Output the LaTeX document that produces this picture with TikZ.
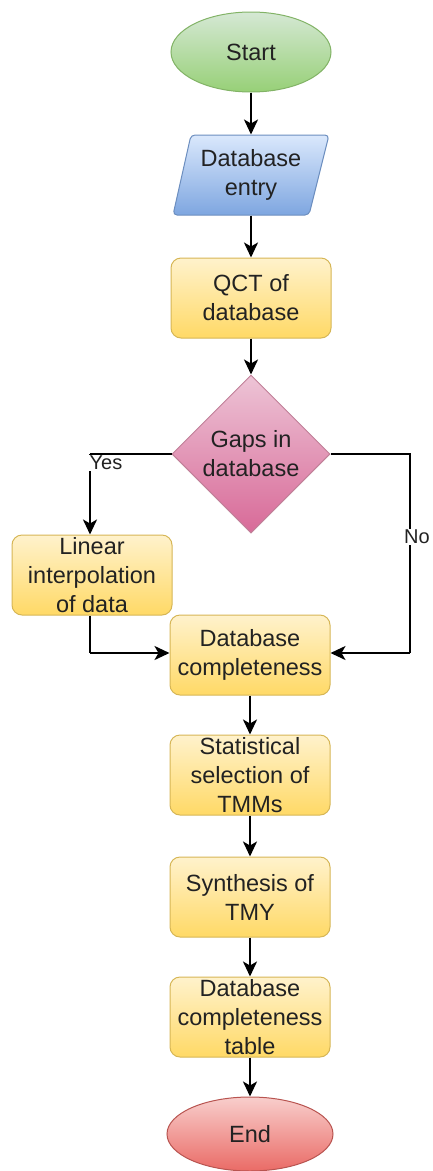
\documentclass[tikz,border=0pt]{standalone}
\usepackage{fontspec}
\setmainfont{Liberation Sans}
\usetikzlibrary{shapes.geometric,arrows.meta}
\definecolor{gtop}{HTML}{D5E8D4}\definecolor{gbot}{HTML}{97D077}\definecolor{gdraw}{HTML}{82B366}
\definecolor{btop}{HTML}{DAE8FC}\definecolor{bbot}{HTML}{7EA6E0}\definecolor{bdraw}{HTML}{6C8EBF}
\definecolor{ytop}{HTML}{FFF2CC}\definecolor{ybot}{HTML}{FFD966}\definecolor{ydraw}{HTML}{D6B656}
\definecolor{ptop}{HTML}{EDC4D6}\definecolor{pbot}{HTML}{D86A98}\definecolor{pdraw}{HTML}{C08098}
\definecolor{rtop}{HTML}{F8CECC}\definecolor{rbot}{HTML}{EA6B66}\definecolor{rdraw}{HTML}{B85450}
\definecolor{txt}{HTML}{222222}
\tikzset{
  base/.style={font=\fontsize{23.5}{29}\selectfont, text=txt, align=center, line width=1pt, inner sep=2pt},
  procbox/.style={base, rectangle, rounded corners=10pt, minimum width=160pt, minimum height=80pt, top color=ytop, bottom color=ybot, draw=ydraw},
  term/.style={base, ellipse, minimum width=160pt, top color=#1top, bottom color=#1bot, draw=#1draw},
  flow/.style={line width=2.2pt, -{Stealth[length=15pt,width=14pt,inset=4pt]}},
  lbl/.style={font=\fontsize{20}{24}\selectfont, text=txt, fill=white, inner sep=1pt}
}
\begin{document}
\begin{tikzpicture}
\useasboundingbox (0pt,0pt) rectangle (432pt,-1171pt);
% Start
\node[term=g, minimum height=80pt] (start) at (251pt,-52pt) {Start};
% Database entry (parallelogram)
\shadedraw[top color=btop, bottom color=bbot, draw=bdraw, line width=1pt, rounded corners=4pt]
  (191pt,-135pt) -- (329pt,-135pt) -- (309pt,-215pt) -- (173pt,-215pt) -- cycle;
\node[base, minimum width=150pt, minimum height=80pt] (entry) at (251pt,-175pt) {Database\\entry};
% QCT
\node[procbox] (qct) at (251pt,-298pt) {QCT of\\database};
% Diamond
\node[base, diamond, minimum width=158pt, minimum height=158pt, inner sep=0pt, top color=ptop, bottom color=pbot, draw=pdraw] (gaps) at (251pt,-454pt) {Gaps in\\database};
% Linear interpolation
\node[procbox] (lin) at (92pt,-575pt) {Linear\\interpolation\\of data};
% Database completeness
\node[procbox] (comp) at (250pt,-655pt) {Database\\completeness};
% Statistical selection
\node[procbox] (stat) at (250pt,-775pt) {Statistical\\selection of\\TMMs};
% Synthesis
\node[procbox] (syn) at (250pt,-897pt) {Synthesis of\\TMY};
% Table
\node[procbox] (tab) at (250pt,-1017pt) {Database\\completeness\\table};
% End
\node[term=r, minimum height=74pt, minimum width=166pt] (end) at (250pt,-1134pt) {End};

\coordinate (yc) at (90pt,-454pt);
\coordinate (nc) at (410pt,-454pt);
\coordinate (nb) at (410pt,-653pt);
\coordinate (lb) at (90pt,-653pt);

\draw[flow] (start) -- (entry.north);
\draw[flow] (entry.south) -- (qct.north);
\draw[flow] (qct) -- (gaps);
\draw[line width=1.5pt] (gaps.west) -- (yc);
\draw[flow] (yc) -- (lin.north -| yc);
\node[lbl] (yes) at (106pt,-463pt) {Yes};
\draw[line width=1.5pt] (gaps.east) -- (nc) -- (nb);
\draw[flow] (nb) -- (comp.east |- nb);
\node[lbl] (no) at (417pt,-537pt) {No};
\draw[line width=1.5pt] (lin.south -| lb) -- (lb);
\draw[flow] (lb) -- (comp.west |- lb);
\draw[flow] (comp) -- (stat);
\draw[flow] (stat) -- (syn);
\draw[flow] (syn) -- (tab);
\draw[flow] (tab) -- (end);
\end{tikzpicture}
\end{document}
